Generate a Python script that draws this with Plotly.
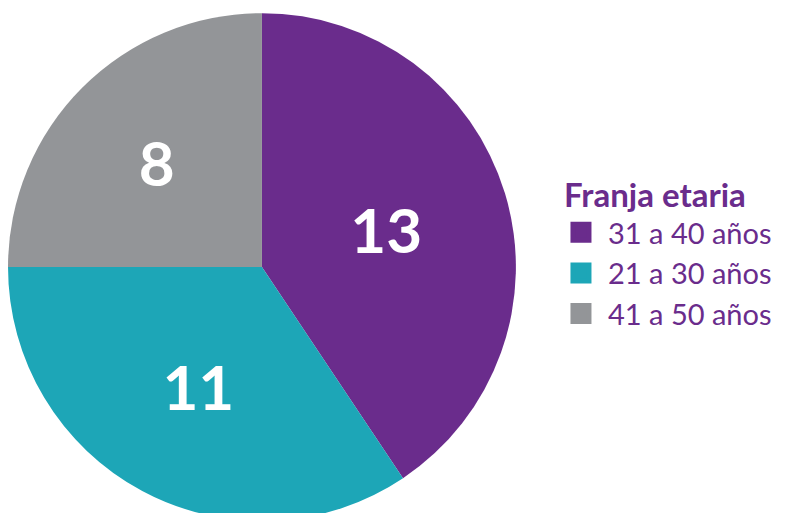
import plotly.graph_objects as go

labels = ["31 a 40 años", "21 a 30 años", "41 a 50 años"]
values = [13, 11, 8]
colors = ["#6A2C8C", "#1DA6B7", "#939598"]

PURPLE = "#6A2C8C"

fig = go.Figure()
fig.add_trace(
    go.Pie(
        labels=labels,
        values=values,
        sort=False,
        direction="clockwise",
        rotation=0,
        marker={"colors": colors, "line": {"width": 0}},
        textinfo="value",
        textposition="inside",
        insidetextorientation="horizontal",
        textfont={"family": "Lato, sans-serif", "size": 62, "color": "white", "weight": "bold"},
        domain={"x": [0.0, 0.647], "y": [0.0, 0.99]},
        hoverinfo="label+value",
        showlegend=False,
    )
)
# legend entries with larger square swatches
for name, color in zip(labels, colors):
    fig.add_trace(
        go.Scatter(
            x=[None], y=[None], mode="markers", name=name,
            marker={"symbol": "square", "size": 16, "color": color, "line": {"width": 5, "color": color}},
        )
    )

fig.update_layout(
    width=785,
    height=513,
    margin={"l": 0, "r": 0, "t": 0, "b": 0},
    paper_bgcolor="white",
    plot_bgcolor="white",
    font={"family": "Lato, sans-serif", "color": PURPLE},
    xaxis={"visible": False},
    yaxis={"visible": False},
    legend={
        "title": {"text": "<b>Franja etaria</b>", "font": {"size": 33, "color": PURPLE}},
        "font": {"size": 29, "color": PURPLE},
        "x": 0.7057,
        "y": 0.696,
        "xanchor": "left",
        "yanchor": "top",
        "tracegroupgap": 0,
        "itemwidth": 44,
        "itemsizing": "trace",
        "indentation": -8,
    },
)
fig.write_html("out.html")
